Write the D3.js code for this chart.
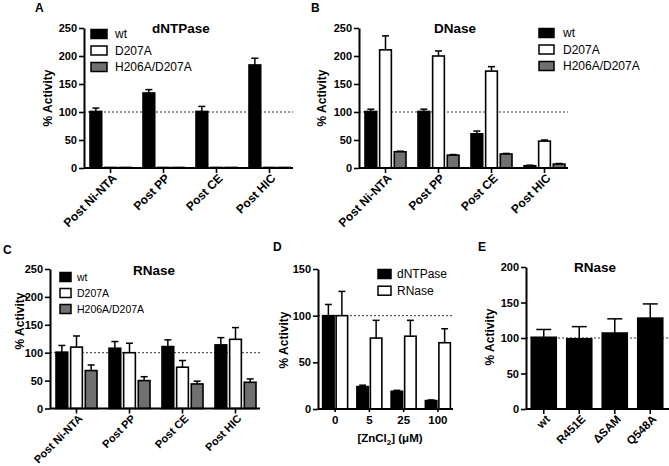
<!DOCTYPE html>
<html><head><meta charset="utf-8">
<script src="https://cdn.jsdelivr.net/npm/d3@7"></script>
<style>
body{margin:0;background:#fff;}
svg{display:block;font-family:"Liberation Sans",Arial,Helvetica,sans-serif;}
</style></head>
<body>
<svg id="c" width="669" height="466"></svg>
<script>
// ---------- DATA ----------
const purifSteps = ["Post Ni-NTA","Post PP","Post CE","Post HIC"];
const mutants = ["wt","D207A","H206A/D207A"];

// Panel A: dNTPase
const aWt = [101,134,101,184], aWtErr = [6,6,9,12];
const aD207A = [1,1,1,1], aD207AErr = [0,0,0,0];
const aH206A = [1,1,1,1], aH206AErr = [0,0,0,0];

// Panel B: DNase
const bWt = [101,101,61,4], bWtErr = [4,4,5,1];
const bD207A = [211,200,173,48], bD207AErr = [25,9,8,2];
const bH206A = [29,23,25,7], bH206AErr = [1,1,1,1];

// Panel C: RNase
const cWt = [101,108,111,114], cWtErr = [12,12,12,13];
const cD207A = [110,100,74,124], cD207AErr = [20,17,12,21];
const cH206A = [68,50,44,47], cH206AErr = [10,7,5,6];

// Panel D: ZnCl2
const znConc = ["0","5","25","100"];
const dSeries = ["dNTPase","RNase"];
const dDntpase = [100,24,19,9], dDntpaseErr = [12,1.5,1,0.7];
const dRnase = [100,76,78,71], dRnaseErr = [26,19,17,15];

// Panel E: RNase of mutants
const eMutants = ["wt","R451E","\u0394SAM","Q548A"];
const eVals = [101,99,107,128], eErr = [11,17,20,20];

const fills = {"wt":"#000","D207A":"#fff","H206A/D207A":"#707070","dNTPase":"#000","RNase":"#fff"};

// ---------- DRAW ----------
const svg = d3.select("#c");

function panel(o){
  const g = svg.append("g");
  const y = d3.scaleLinear().domain([0,o.ymax]).range([o.y0,o.ytop]);
  const x = d3.scaleBand().domain(o.groups).range([o.x0,o.x0+o.xw]).padding(0);
  const inner = d3.scaleBand().domain(o.series).range(o.innerRange).paddingInner(o.innerPad);
  // reference line at 100
  g.append("line").attr("x1",o.x0).attr("x2",o.x0+o.axLen)
    .attr("y1",y(100)).attr("y2",y(100))
    .attr("stroke","#333").attr("stroke-width",1).attr("stroke-dasharray","2,2");
  // bars
  o.series.forEach((s,si)=>{
    const vals = o.values[si], errs = o.errors[si];
    o.groups.forEach((grp,gi)=>{
      const cx = x(grp)+x.bandwidth()/2 + inner(s);
      const bw = inner.bandwidth();
      const v = vals[gi], e = errs[gi];
      if(e>0){
        g.append("line").attr("x1",cx+bw/2).attr("x2",cx+bw/2)
          .attr("y1",y(v)).attr("y2",y(v+e)).attr("stroke","#000").attr("stroke-width",1.5);
        g.append("line").attr("x1",cx+bw/2-bw*0.3).attr("x2",cx+bw/2+bw*0.3)
          .attr("y1",y(v+e)).attr("y2",y(v+e)).attr("stroke","#000").attr("stroke-width",1.5);
      }
      g.append("rect").attr("x",cx).attr("y",y(v)).attr("width",bw)
        .attr("height",Math.max(0.5,y(0)-y(v)))
        .attr("fill",fills[s]).attr("stroke","#000").attr("stroke-width",1.6);
    });
  });
  // y axis
  const ya = g.append("g").attr("transform",`translate(${o.x0},0)`)
    .call(d3.axisLeft(y).tickValues(o.yticks).tickSize(5).tickSizeOuter(0).tickPadding(2));
  ya.select(".domain").attr("stroke-width",2);
  ya.selectAll(".tick line").attr("stroke-width",1.6);
  ya.selectAll("text").attr("font-size",11).attr("font-weight","bold")
    .attr("font-family","Liberation Sans, Arial, sans-serif").attr("fill","#000");
  // x axis
  const xa = g.append("g").attr("transform",`translate(0,${o.y0})`)
    .call(d3.axisBottom(x).tickSize(o.xTick).tickSizeOuter(0));
  xa.select(".domain").attr("d",`M${o.x0},0H${o.x0+o.axLen}`).attr("stroke-width",2);
  xa.selectAll(".tick line").attr("stroke-width",1.6);
  xa.selectAll("text").attr("font-size",o.xfs).attr("font-weight","bold")
    .attr("font-family","Liberation Sans, Arial, sans-serif").attr("fill","#000");
  if(o.rotate){
    xa.selectAll("text").attr("text-anchor","end")
      .attr("transform","translate(4,8) rotate(-45)").attr("dy","0.35em").attr("y",0).attr("x",0);
  } else {
    xa.selectAll("text").attr("y",7);
  }
  // y title
  g.append("text").attr("transform",`translate(${o.ylabX},${o.ylabY}) rotate(-90)`)
    .attr("text-anchor","middle").attr("dy","0.35em")
    .attr("font-size",12).attr("font-weight","bold").text("% Activity");
  // title
  if(o.title){
    g.append("text").attr("x",o.title[1]).attr("y",o.title[2]).attr("text-anchor","middle")
      .attr("font-size",13.5).attr("font-weight","bold").text(o.title[0]);
  }
  // letter
  g.append("text").attr("x",o.letter[1]).attr("y",o.letter[2])
    .attr("font-size",12).attr("font-weight","bold").text(o.letter[0]);
  // legend
  if(o.legend){
    const L = o.legend;
    o.series.forEach((s,i)=>{
      const cy = L.y + i*L.dy;
      g.append("rect").attr("x",L.x).attr("y",cy-L.h/2).attr("width",L.w).attr("height",L.h)
        .attr("fill",fills[s]).attr("stroke","#000").attr("stroke-width",1.5);
      g.append("text").attr("x",L.tx).attr("y",cy).attr("dy","0.35em")
        .attr("font-size",L.fs).text(s);
    });
  }
  return g;
}

// Panel A
panel({groups:purifSteps, series:mutants, values:[aWt,aD207A,aH206A], errors:[aWtErr,aD207AErr,aH206AErr],
  ymax:250, y0:168, ytop:28, x0:84, xw:212, axLen:209, innerRange:[-20.5,20.5], innerPad:0.2,
  yticks:[0,50,100,150,200,250], xTick:5, rotate:true, xfs:12, ylabX:48, ylabY:98,
  title:["dNTPase",181,33], letter:["A",35,12],
  legend:{x:91,y:34,dy:16.5,w:16,h:9,tx:115,fs:12}});

// Panel B
panel({groups:purifSteps, series:mutants, values:[bWt,bD207A,bH206A], errors:[bWtErr,bD207AErr,bH206AErr],
  ymax:250, y0:168, ytop:28, x0:359, xw:212, axLen:209, innerRange:[-20.5,20.5], innerPad:0.2,
  yticks:[0,50,100,150,200,250], xTick:5, rotate:true, xfs:12, ylabX:322, ylabY:98,
  title:["DNase",455,33], letter:["B",311,12],
  legend:{x:539,y:33,dy:16.5,w:15,h:9,tx:563,fs:12}});

// Panel C
panel({groups:purifSteps, series:mutants, values:[cWt,cD207A,cH206A], errors:[cWtErr,cD207AErr,cH206AErr],
  ymax:250, y0:408.5, ytop:269, x0:50, xw:212, axLen:210, innerRange:[-20.5,20.5], innerPad:0.2,
  yticks:[0,50,100,150,200,250], xTick:5, rotate:true, xfs:11, ylabX:20, ylabY:321,
  title:["RNase",154,275], letter:["C",3,254],
  legend:{x:60,y:277,dy:16,w:11,h:9,tx:77,fs:10.5}});

// Panel D
const gD = panel({groups:znConc, series:dSeries, values:[dDntpase,dRnase], errors:[dDntpaseErr,dRnaseErr],
  ymax:150, y0:409, ytop:269, x0:318, xw:137, axLen:135, innerRange:[-12.5,12.5], innerPad:0.15,
  yticks:[0,50,100,150], xTick:3, rotate:false, xfs:11.5, ylabX:284, ylabY:340,
  title:null, letter:["D",273,251],
  legend:{x:378,y:274,dy:16.7,w:13,h:9,tx:397,fs:12}});
const xl = gD.append("text").attr("x",390).attr("y",442).attr("text-anchor","middle")
  .attr("font-size",11.5).attr("font-weight","bold");
xl.append("tspan").text("[ZnCl");
xl.append("tspan").attr("font-size",8).attr("dy",3).text("2");
xl.append("tspan").attr("dy",-3).text("] (\u03BCM)");

// Panel E
panel({groups:eMutants, series:["wt"], values:[eVals], errors:[eErr],
  ymax:200, y0:409, ytop:267, x0:526, xw:142, axLen:143, innerRange:[-12.5,12.5], innerPad:0,
  yticks:[0,50,100,150,200], xTick:5, rotate:true, xfs:11.5, ylabX:490, ylabY:337,
  title:["RNase",595,272], letter:["E",478,251], legend:null});
</script>
</body></html>
